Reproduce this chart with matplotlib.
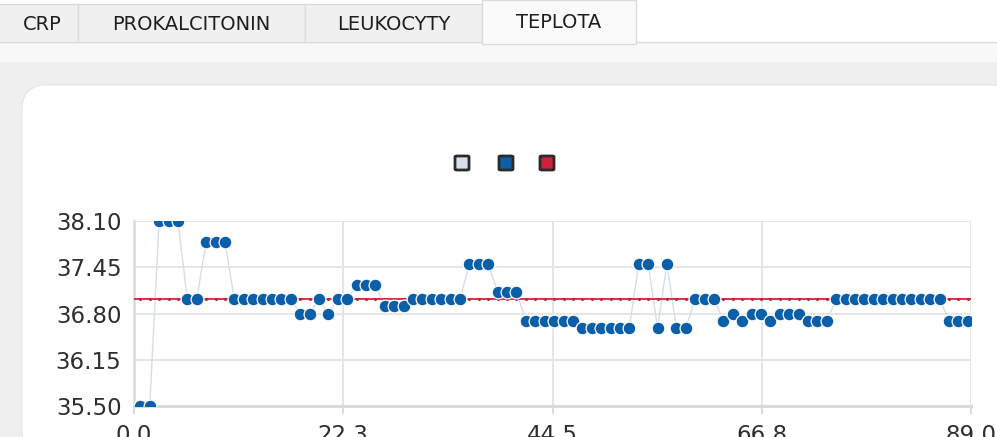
import numpy as np
import matplotlib
matplotlib.use("Agg")
import matplotlib.pyplot as plt
from matplotlib.patches import Rectangle, FancyBboxPatch

# ---- data ----
tabs = ["CRP", "PROKALCITONIN", "LEUKOCYTY", "TEPLOTA"]
temps = [35.5, 35.5,
         38.1, 38.1, 38.1,
         37.0, 37.0,
         37.8, 37.8, 37.8,
         37.0, 37.0, 37.0, 37.0, 37.0, 37.0, 37.0,
         36.8, 36.8,
         37.0,
         36.8,
         37.0, 37.0,
         37.2, 37.2, 37.2,
         36.9, 36.9, 36.9,
         37.0, 37.0, 37.0, 37.0, 37.0, 37.0,
         37.5, 37.5, 37.5,
         37.1, 37.1, 37.1,
         36.7, 36.7, 36.7, 36.7, 36.7, 36.7,
         36.6, 36.6, 36.6, 36.6, 36.6, 36.6,
         37.5, 37.5,
         36.6,
         37.5,
         36.6, 36.6,
         37.0, 37.0, 37.0,
         36.7, 36.8, 36.7, 36.8, 36.8, 36.7, 36.8, 36.8, 36.8,
         36.7, 36.7, 36.7,
         37.0, 37.0, 37.0, 37.0, 37.0, 37.0, 37.0, 37.0, 37.0, 37.0, 37.0, 37.0,
         36.7, 36.7, 36.7]
x_start = 0.67
threshold = 37.0
y_ticks = [35.50, 36.15, 36.80, 37.45, 38.10]
x_ticks = [0.0, 22.25, 44.5, 66.75, 89.0]
x_labels = ["0.0", "22.3", "44.5", "66.8", "89.0"]
legend_colors = ["#d6dfea", "#0b5ea8", "#d21f3c"]

W, H = 997, 437
fig = plt.figure(figsize=(W / 100, H / 100), dpi=100)
fig.patch.set_facecolor("white")

def fx(px):
    return px / W

def fy(py):
    return 1 - py / H

def rect(x0, y0, x1, y1, fc, ec="none", lw=0, z=0):
    fig.patches.append(Rectangle((fx(x0), fy(y1)), fx(x1) - fx(x0), fy(y0) - fy(y1),
                                 transform=fig.transFigure, facecolor=fc, edgecolor=ec,
                                 linewidth=lw, zorder=z))

# page backgrounds
rect(0, 42, W, H, "#f8f8f8")
rect(0, 62, W, H, "#efefef")
fig.patches.append(FancyBboxPatch((fx(22), fy(H + 20)), fx(W + 20) - fx(22), fy(85) - fy(H + 20),
                                  boxstyle="round,pad=0,rounding_size=0.025",
                                  transform=fig.transFigure, facecolor="white",
                                  edgecolor="#e6e6e6", linewidth=0.8, zorder=1,
                                  mutation_aspect=W / H))

# tabs
tab_edges = [(-2, 78), (78, 305), (305, 482), (482, 636)]
for i, (name, (a, b)) in enumerate(zip(tabs, tab_edges)):
    if name == "TEPLOTA":
        rect(a, 0, b, 44, "#fafafa", ec="#dcdcdc", lw=1.0, z=2)
        ty = 22
    else:
        rect(a, 4, b, 42, "#f0f0f0", ec="#dcdcdc", lw=1.0, z=2)
        ty = 25
    fig.text(fx((a + b) / 2 + (0 if i else 4)), fy(ty), name, ha="center", va="center",
             fontsize=14, color="#1e1e1e", family="DejaVu Sans", zorder=3)
fig.lines.append(plt.Line2D([fx(0), fx(482)], [fy(42), fy(42)], transform=fig.transFigure,
                            color="#dcdcdc", lw=1.0, zorder=2))
fig.lines.append(plt.Line2D([fx(636), fx(W)], [fy(42), fy(42)], transform=fig.transFigure,
                            color="#dcdcdc", lw=1.0, zorder=2))

# legend squares
for c, cx in zip(legend_colors, [462, 506, 547]):
    fig.patches.append(FancyBboxPatch((fx(cx - 7), fy(170)), fx(14), fy(156) - fy(170),
                                      boxstyle="round,pad=0,rounding_size=0.002",
                                      transform=fig.transFigure, facecolor=c,
                                      edgecolor="#2b2b2b", linewidth=2.0, zorder=3))

# chart
ax = fig.add_axes([fx(134), fy(406), fx(971) - fx(134), fy(221) - fy(406)], zorder=5)
ax.set_facecolor("none")
xs = x_start + np.arange(len(temps))
ax.set_xlim(0, 89)
ax.set_ylim(35.5, 38.1)

ax.plot(xs, temps, color="#d3deea", lw=1.0, zorder=2)
ax.plot([0, 89], [threshold, threshold], color="#d8213d", lw=1.3, zorder=3)
ax.plot(xs, [threshold] * len(xs), ls="none", marker="o", ms=1.2, color="#c4213a", zorder=3)
ax.plot(xs, temps, ls="none", marker="o", ms=9.2, markerfacecolor="#0b5ea8",
        markeredgecolor="white", markeredgewidth=0.9, zorder=4)

ax.set_yticks(y_ticks)
ax.set_yticklabels([f"{v:.2f}" for v in y_ticks])
ax.set_xticks(x_ticks)
ax.set_xticklabels(x_labels)
ax.grid(True, color="#e5e5e5", lw=1.4, zorder=0)
ax.set_axisbelow(True)
for s in ["top", "right"]:
    ax.spines[s].set_visible(False)
ax.spines["left"].set_color("#dadada")
ax.spines["left"].set_linewidth(1.8)
ax.spines["bottom"].set_color("#dadada")
ax.spines["bottom"].set_linewidth(2.2)
ax.tick_params(axis="y", length=0, pad=9, labelsize=16.5, labelcolor="#2e2e2e")
ax.tick_params(axis="x", length=6, width=1.4, color="#dadada", pad=7, labelsize=16.5,
               labelcolor="#2e2e2e")

fig.savefig("out.png", dpi=100)
